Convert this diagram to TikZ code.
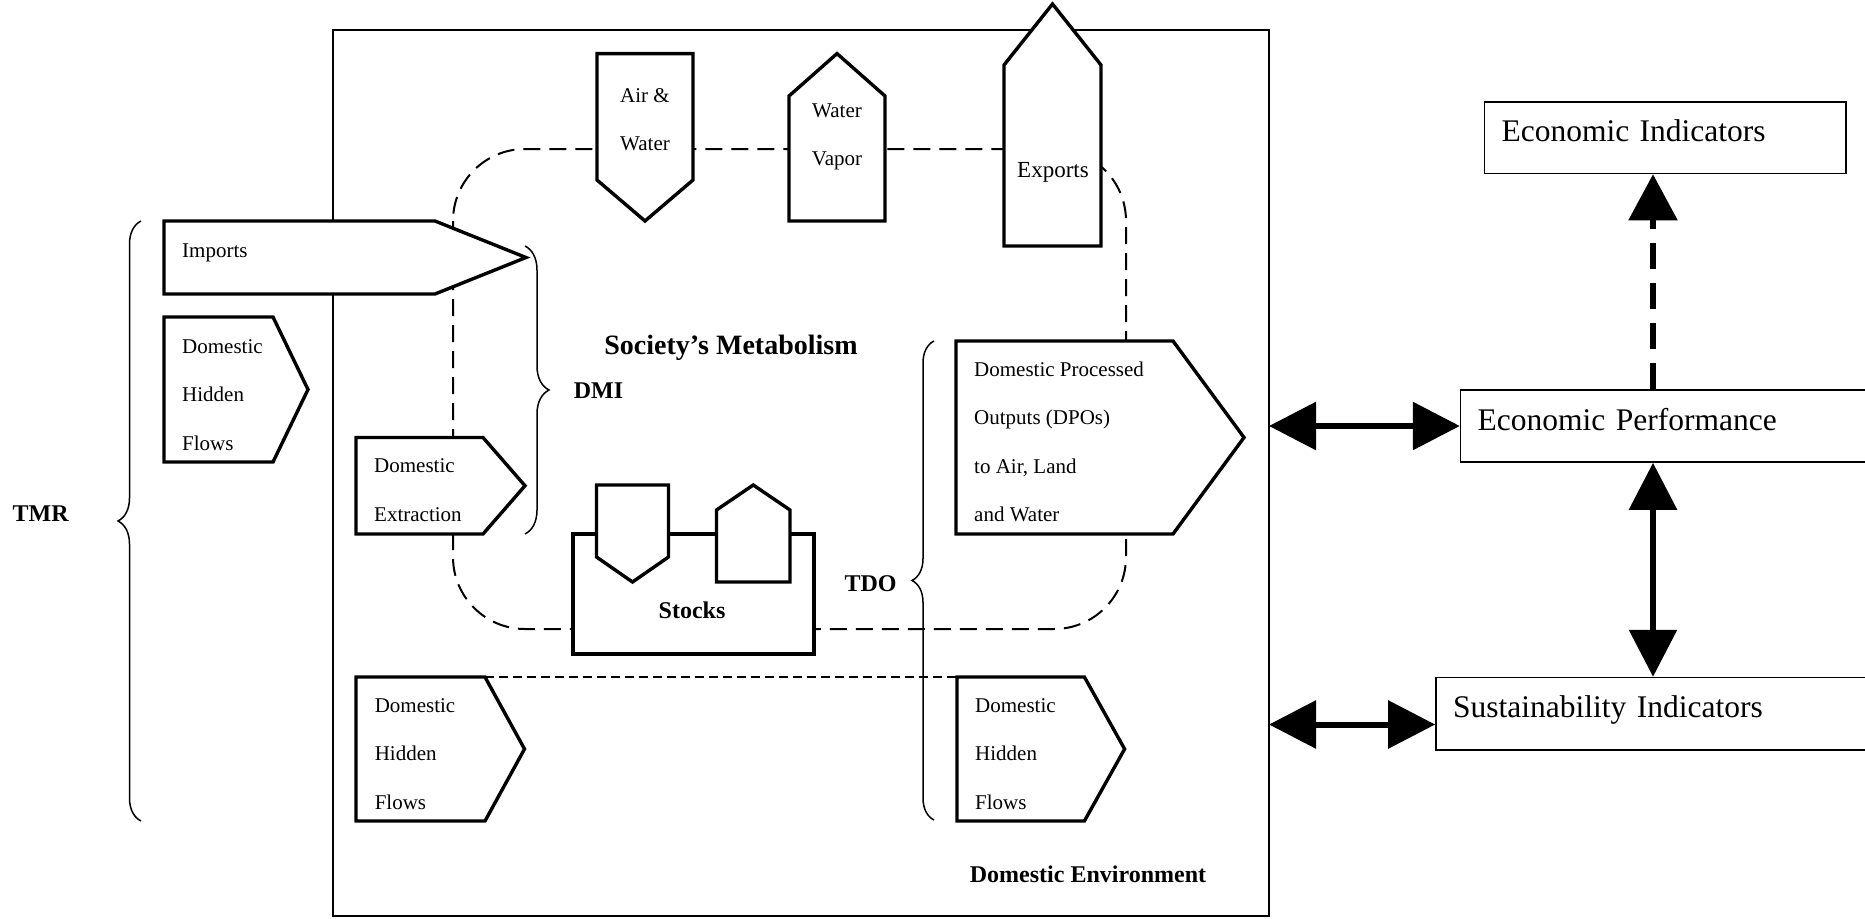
\documentclass[tikz,border=0pt]{standalone}
\usepackage{fontspec}
\setmainfont{Liberation Serif}
\usetikzlibrary{arrows.meta,decorations.pathreplacing}

\begin{document}
\begin{tikzpicture}[x=1pt, y=-1pt
    , flowshape/.style={draw, fill=white, line width=3.4pt}
    , bodybox/.style 2 args={minimum width=#1pt, minimum height=#2pt, inner sep=0pt, outer sep=0pt}
    , boxtext/.style={font=\fontsize{21}{48.5}\selectfont, align=left, inner sep=0pt}
    , boldlabel/.style={font=\bfseries\fontsize{24}{28}\selectfont, inner sep=0pt}
    , indbox/.style={draw, line width=1.6pt, inner xsep=17pt, inner ysep=0pt, align=left, font=\fontsize{31.5}{36}\selectfont, text height=22pt, text depth=14pt}
    , bigarrow/.style={line width=6pt, {Triangle[length=47pt, width=47pt]}-{Triangle[length=47pt, width=47pt]}}
    , cycleline/.style={line width=2pt, dash pattern=on 17pt off 9pt, rounded corners=72pt}
    , hiddenline/.style={line width=2pt, dash pattern=on 9pt off 5pt}
    , bracket/.style={decorate, decoration={brace, amplitude=#1}, line width=1.5pt}
    ]
    \clip (0,0) rectangle (1865,918);

    % domestic environment
    \node[draw, line width=2pt, bodybox={936}{886.4}] (env) at (801,472.8) {};

    % metabolism cycle, behind the flows
    \draw[cycleline] (453,149) rectangle (1126,629);

    % bodies of the flows
    \node[bodybox={271}{73}] (imp) at (299.5,257.5) {};
    \node[bodybox={109}{145}] (dhfA) at (218.5,389.5) {};
    \node[bodybox={127}{96.5}] (dext) at (419.5,485.75) {};
    \node[bodybox={129}{144}] (dhfB) at (420.5,749) {};
    \node[bodybox={217}{193}] (dpo) at (1064.5,437.5) {};
    \node[bodybox={127.4}{144}] (dhfC) at (1020.7,749) {};
    \node[bodybox={96}{126.4}] (airw) at (645,116.8) {};
    \node[bodybox={96}{125}] (vapor) at (837,158.5) {};
    \node[bodybox={97}{181}] (exp) at (1052.5,155.5) {};
    \node[bodybox={241}{120}] (stk) at (693.5,594) {};
    \node[bodybox={72}{72}] (stkA) at (632.5,521) {};
    \node[bodybox={73.5}{72}] (stkB) at (753.25,546) {};

    \draw[hiddenline] (dhfB.north east) -- (dhfC.north west);

    % flows pointing right
    \draw[flowshape] (imp.north west) -- (imp.north east) -- ([xshift=91pt]imp.east) -- (imp.south east) -- (imp.south west) -- cycle;
    \draw[flowshape] (dhfA.north west) -- (dhfA.north east) -- ([xshift=35pt]dhfA.east) -- (dhfA.south east) -- (dhfA.south west) -- cycle;
    \draw[flowshape] (dext.north west) -- (dext.north east) -- ([xshift=42pt]dext.east) -- (dext.south east) -- (dext.south west) -- cycle;
    \draw[flowshape] (dhfB.north west) -- (dhfB.north east) -- ([xshift=39.5pt]dhfB.east) -- (dhfB.south east) -- (dhfB.south west) -- cycle;
    \draw[flowshape] (dpo.north west) -- (dpo.north east) -- ([xshift=71pt]dpo.east) -- (dpo.south east) -- (dpo.south west) -- cycle;
    \draw[flowshape] (dhfC.north west) -- (dhfC.north east) -- ([xshift=40.2pt]dhfC.east) -- (dhfC.south east) -- (dhfC.south west) -- cycle;

    % flows pointing down and up
    \draw[flowshape] (airw.north west) -- (airw.north east) -- (airw.south east) -- ([yshift=-41pt]airw.south) -- (airw.south west) -- cycle;
    \draw[flowshape] (vapor.south west) -- (vapor.south east) -- (vapor.north east) -- ([yshift=42.4pt]vapor.north) -- (vapor.north west) -- cycle;
    \draw[flowshape] (exp.south west) -- (exp.south east) -- (exp.north east) -- ([yshift=61pt]exp.north) -- (exp.north west) -- cycle;

    % stocks
    \draw[flowshape] (stk.north west) rectangle (stk.south east);
    \draw[flowshape] (stkA.north west) -- (stkA.north east) -- (stkA.south east) -- ([yshift=-25pt]stkA.south) -- (stkA.south west) -- cycle;
    \draw[flowshape] (stkB.south west) -- (stkB.south east) -- (stkB.north east) -- ([yshift=25pt]stkB.north) -- (stkB.north west) -- cycle;

    % texts
    \node[boxtext, anchor=west] (impT) at (182,253) {Imports};
    \node[boxtext, anchor=west] (dhfAT) at (182,395) {Domestic\\Hidden\\Flows};
    \node[boxtext, anchor=west] (dextT) at (374,490) {Domestic\\Extraction};
    \node[boxtext, anchor=west] (dpoT) at (974,442) {Domestic Processed\\Outputs (DPOs)\\to Air, Land\\and Water};
    \node[boxtext, anchor=west] (dhfBT) at (374.6,754) {Domestic\\Hidden\\Flows};
    \node[boxtext, anchor=west] (dhfCT) at (975,754) {Domestic\\Hidden\\Flows};
    \node[boxtext, align=center] (airwT) at (645,119.5) {Air \&\\Water};
    \node[boxtext, align=center] (vaporT) at (837,137) {Water\\Vapor};
    \node[boxtext, font=\fontsize{23}{28}\selectfont] (expT) at (1053,172.5) {Exports};
    \node[boldlabel, font=\bfseries\fontsize{28}{32}\selectfont] (socT) at (731,348) {Society's Metabolism};
    \node[boldlabel] (dmiT) at (598.5,391) {DMI};
    \node[boldlabel] (tmrT) at (40.7,514) {TMR};
    \node[boldlabel] (tdoT) at (870.5,584) {TDO};
    \node[boldlabel] (stkT) at (692,610) {Stocks};
    \node[boldlabel] (envT) at (1088,874) {Domestic Environment};

    % braces
    \draw[bracket=23pt] (141,821) -- (141,221);
    \draw[bracket=24pt] (525,246) -- (525,534);
    \draw[bracket=22pt] (934,820) -- (934,341);

    % indicators
    \node[indbox, minimum width=361.5pt, minimum height=71.5pt, text width=327.5pt] (ei) at (1665.25,137.75) {Economic Indicators};
    \node[indbox, minimum height=72pt, text width=372.4pt] (ep) at (1663.8,426) {Economic Performance};
    \node[indbox, minimum height=72.5pt, text width=397pt] (si) at (1651.5,713.8) {Sustainability Indicators};

    \coordinate (axis) at (1653,0);
    \coordinate (siin) at ([yshift=-10.7pt]si.west);
    \draw[bigarrow] (env.east |- ep.west) -- (ep.west);
    \draw[bigarrow] (env.east |- siin) -- (siin);
    \draw[bigarrow] (ep.south -| axis) -- (si.north -| axis);
    \draw[line width=5.5pt, dash pattern=on 26pt off 14pt, -{Triangle[length=46pt, width=48pt]}] (ep.north -| axis) -- (ei.south -| axis);
\end{tikzpicture}
\end{document}
